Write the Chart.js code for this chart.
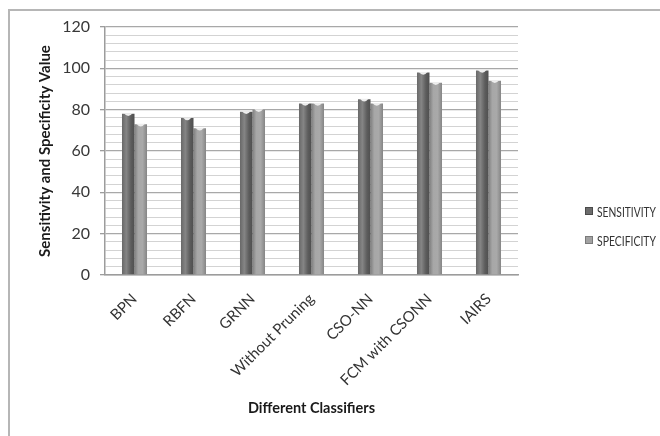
<!DOCTYPE html>
<html>
<head>
<meta charset="utf-8">
<script src="https://cdn.jsdelivr.net/npm/chart.js@4.4.1/dist/chart.umd.min.js"></script>
<style>
  html, body { margin: 0; padding: 0; background: #fff; overflow: hidden; }
  #wrap { position: relative; width: 660px; height: 436px; }
  #frame { position: absolute; left: 8px; top: 9px; width: 700px; height: 500px;
           border: 2px solid #b6b6b6; pointer-events: none; }
  canvas { position: absolute; left: 0; top: 0; }
</style>
</head>
<body>
<div id="wrap">
  <canvas id="chart" width="660" height="436"></canvas>
  <div id="frame"></div>
</div>
<script>
// --------------------------------- chart data ----------------------------------
const classifiers = ['BPN', 'RBFN', 'GRNN', 'Without Pruning', 'CSO-NN', 'FCM with CSONN', 'IAIRS'];
const sensitivity = [78, 76, 79, 83, 85, 98, 99];
const specificity = [73, 71, 80, 83, 83, 93, 94];
const yTickLabels = [0, 20, 40, 60, 80, 100, 120];
const seriesNames = ['SENSITIVITY', 'SPECIFICITY'];

const fontFamily = 'Lato, "Open Sans", "Liberation Sans", sans-serif';
const groupWidth = 0.424;

// cylinder-style shading, one horizontal gradient per bar
const shades = [
    [[0, '#686868'], [0.35, '#858585'], [0.72, '#5c5c5c'], [1, '#4f4f4f']],
    [[0, '#7f7f7f'], [0.3, '#a7a7a7'], [0.65, '#a9a9a9'], [1, '#858585']]
];
const flatShades = ['#6c6c6c', '#a2a2a2'];

function barFill(ctx) {
    let chart = ctx.chart;
    let xs = chart.scales.x;
    if (!xs || !xs.width || ctx.dataIndex === undefined) return flatShades[ctx.datasetIndex];
    let catW = xs.width / classifiers.length;
    let barW = catW * groupWidth / 2;
    let left = xs.getPixelForValue(ctx.dataIndex) - catW * groupWidth / 2 + ctx.datasetIndex * barW;
    let g = chart.ctx.createLinearGradient(left, 0, left + barW, 0);
    shades[ctx.datasetIndex].forEach(s => g.addColorStop(s[0], s[1]));
    return g;
}

// small notch on each bar top
const barTops = {
    id: 'barTops',
    afterDatasetsDraw(chart) {
        let c = chart.ctx;
        c.save();
        chart.data.datasets.forEach((ds, i) => {
            chart.getDatasetMeta(i).data.forEach(el => {
                let p = el.getProps(['x', 'y', 'width'], true);
                c.beginPath();
                c.moveTo(p.x - p.width / 2 + 2, p.y - 0.5);
                c.quadraticCurveTo(p.x, p.y + 5, p.x + p.width / 2 - 2, p.y - 0.5);
                c.closePath();
                c.fillStyle = '#eeeeee';
                c.fill();
            });
        });
        c.restore();
    }
};

// legend on the right
const sideLegend = {
    id: 'sideLegend',
    afterDraw(chart) {
        let c = chart.ctx;
        let rows = [211, 240];
        c.save();
        chart.data.datasets.forEach((ds, i) => {
            let y = rows[i];
            c.fillStyle = flatShades[i];
            c.fillRect(585, y - 4, 8, 8);
            c.strokeStyle = i === 0 ? '#4a4a4a' : '#7a7a7a';
            c.lineWidth = 1;
            c.strokeRect(585.5, y - 3.5, 7, 7);
            c.fillStyle = '#333333';
            c.font = '14px ' + fontFamily;
            c.textBaseline = 'middle';
            c.fillText(ds.label, 597, y + 1, 59);
        });
        c.restore();
    }
};

new Chart(document.getElementById('chart'), {
    type: 'bar',
    data: {
        labels: classifiers,
        datasets: [
            { label: seriesNames[0], data: sensitivity, backgroundColor: barFill },
            { label: seriesNames[1], data: specificity, backgroundColor: barFill }
        ]
    },
    options: {
        responsive: false,
        animation: false,
        layout: { padding: { left: 0, right: 142, top: 27, bottom: 0 } },
        datasets: { bar: { categoryPercentage: groupWidth, barPercentage: 1, borderWidth: 0 } },
        plugins: { legend: { display: false }, tooltip: { enabled: false } },
        scales: {
            x: {
                afterFit: scale => { scale.height = 161; },
                grid: { display: false },
                border: { color: '#9c9c9c', width: 1.5 },
                ticks: {
                    minRotation: 45, maxRotation: 45, padding: 7, autoSkip: false,
                    color: '#333333', font: { family: fontFamily, size: 15 }
                },
                title: {
                    display: true, text: 'Different Classifiers', color: '#1a1a1a',
                    padding: { top: 0, bottom: 19 },
                    font: { family: fontFamily, size: 14.5, weight: 'bold' }
                }
            },
            y: {
                min: 0, max: 120,
                afterFit: scale => { scale.width = 105; },
                border: { color: '#9c9c9c', width: 1.5 },
                grid: {
                    color: c => (c.tick && c.tick.value % 20 === 0) ? '#a8a8a8' : '#d3d3d3',
                    lineWidth: c => (c.tick && c.tick.value % 20 === 0) ? 1.3 : 1,
                    tickColor: c => (c.tick && c.tick.value % 20 === 0) ? '#9c9c9c' : 'rgba(0,0,0,0)',
                    tickLength: 5
                },
                ticks: {
                    stepSize: 4, autoSkip: false, padding: 10,
                    color: '#383838', font: { family: fontFamily, size: 16 },
                    callback: v => yTickLabels.includes(v) ? v : ''
                },
                title: {
                    display: true, text: 'Sensitivity and Specificity Value', color: '#1a1a1a',
                    padding: { top: 36, bottom: 0 },
                    font: { family: fontFamily, size: 15, weight: 'bold' }
                }
            }
        }
    },
    plugins: [barTops, sideLegend]
});
</script>
</body>
</html>
